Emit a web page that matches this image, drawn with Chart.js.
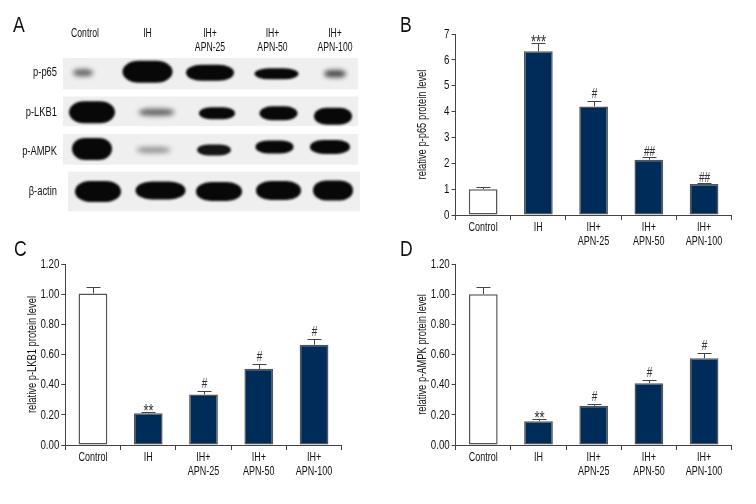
<!DOCTYPE html>
<html>
<head>
<meta charset="utf-8">
<style>
    html, body { margin: 0; padding: 0; background: #fff; }
    #page { position: relative; width: 756px; height: 504px; overflow: hidden; font-family: 'Liberation Sans', sans-serif; }
    canvas { position: absolute; }
    .letter { position: absolute; font-size: 22px; line-height: 22px; color: #111; transform: scaleX(0.8); transform-origin: left top; }
</style>
</head>
<body>
<div id="page">
    <canvas id="chartBlot" width="380" height="225" style="left:0px;top:0px"></canvas>
    <canvas id="chartP65" width="366" height="240" style="left:390px;top:20px"></canvas>
    <canvas id="chartLkb1" width="380" height="250" style="left:0px;top:240px"></canvas>
    <canvas id="chartAmpk" width="366" height="250" style="left:390px;top:240px"></canvas>
    <div class="letter" style="left:13px;top:14px">A</div>
    <div class="letter" style="left:400px;top:14px">B</div>
    <div class="letter" style="left:14px;top:238px">C</div>
    <div class="letter" style="left:400px;top:238px">D</div>
</div>
<script src="https://cdn.jsdelivr.net/npm/chart.js@4"></script>
<script>
const FONT = "'Liberation Sans', sans-serif";
const TEXT_SQUEEZE = 0.72;
const TEXT_COLOR = '#111111';
const AXIS_COLOR = '#444444';
const BAR_COLOR = '#002c5a';

const groups = [['Control'], ['IH'], ['IH+', 'APN-25'], ['IH+', 'APN-50'], ['IH+', 'APN-100']];

const p65Values = [1.0, 6.33, 4.2, 2.14, 1.2];
const p65Errors = [0.07, 0.31, 0.2, 0.12, 0.05];
const p65Marks = ['', '***', '#', '##', '##'];

const lkb1Values = [1.005, 0.21, 0.335, 0.505, 0.665];
const lkb1Errors = [0.045, 0.007, 0.02, 0.03, 0.038];
const lkb1Marks = ['', '**', '#', '#', '#'];

const ampkValues = [1.0, 0.158, 0.26, 0.41, 0.575];
const ampkErrors = [0.05, 0.012, 0.015, 0.02, 0.033];
const ampkMarks = ['', '**', '#', '#', '#'];

// blot band density, one value per lane
const blotRows = ['p-p65', 'p-LKB1', 'p-AMPK', 'β-actin'];
const p65Density = [0.6, 1, 1, 1, 0.75];
const lkb1Density = [1, 0.6, 1, 1, 1];
const ampkDensity = [1, 0.4, 0.95, 1, 1];
const actinDensity = [1, 1, 1, 1, 1];

// band outlines: offset from lane x, half width, half height, offset from row y (px)
const BAND_SHAPES = [
    [[-2, 10, 3.5, 0], [0, 25, 11, -1], [0, 24, 8, 0], [4, 22, 5.5, 1], [0, 11, 3.5, 1]],
    [[7, 23, 11, 0], [9, 18, 3.5, 0], [7, 18, 6, 1], [6, 19, 7, 1], [-2, 19, 8.5, 4]],
    [[7, 20, 11, -3], [6, 17, 3, -2], [4, 17, 5.5, -2], [2, 19, 6.5, -5], [-5, 20, 7, -5]],
    [[13, 23, 10.5, 0], [13, 25, 9, -1], [9, 23, 9.5, 0], [6, 22.5, 9.5, -1], [-2, 20, 10, -1]],
];
// grey strip behind each row: above and below the row centre, in row units
const ROW_BACKS = [[0.375, 0.425], [0.4, 0.35], [0.45, 0.325], [0.5, 0.5]];

// no narrow font is installed, so squeeze canvas text along its own direction
function squeezeText(canvas) {
    const ctx = canvas.getContext('2d');
    const fillText = ctx.fillText.bind(ctx);
    ctx.fillText = function (text, x, y) {
        ctx.save();
        ctx.translate(x, y);
        ctx.scale(TEXT_SQUEEZE, 1);
        fillText(text, 0, 0);
        ctx.restore();
    };
    return canvas;
}

const blotPlugin = {
    id: 'blotBands',
    beforeDatasetsDraw(chart) {
        const { ctx, chartArea, scales } = chart;
        const densities = [p65Density, lkb1Density, ampkDensity, actinDensity];
        ctx.save();
        ROW_BACKS.forEach(function (back, row) {
            const yTop = scales.y.getPixelForValue(row - back[0]);
            const yBot = scales.y.getPixelForValue(row + back[1]);
            const left = chartArea.left + (row === 3 ? 5 : 0);
            const right = chartArea.right - (row === 3 ? 0 : 2);
            ctx.fillStyle = '#efefef';
            ctx.fillRect(left, yTop, right - left, yBot - yTop);
        });
        densities.forEach(function (values, row) {
            values.forEach(function (density, lane) {
                const shape = BAND_SHAPES[row][lane];
                const cx = scales.x.getPixelForValue(lane) + shape[0];
                const cy = scales.y.getPixelForValue(row) + shape[3];
                ctx.filter = density < 0.8 ? 'blur(2.5px)' : 'blur(1px)';
                ctx.fillStyle = 'rgba(8, 8, 8, ' + density + ')';
                ctx.beginPath();
                ctx.roundRect(cx - shape[1], cy - shape[2], shape[1] * 2, shape[2] * 2, { x: shape[1] * 0.65, y: shape[2] });
                ctx.fill();
            });
        });
        ctx.restore();
    },
};

const errorBarPlugin = {
    id: 'errorBars',
    afterDatasetsDraw(chart, args, opts) {
        const { ctx, scales } = chart;
        const meta = chart.getDatasetMeta(0);
        ctx.save();
        ctx.strokeStyle = AXIS_COLOR;
        ctx.lineWidth = 1;
        meta.data.forEach(function (bar, i) {
            const top = scales.y.getPixelForValue(opts.values[i] + opts.errors[i]);
            const x = Math.round(bar.x) + 0.5;
            const y = Math.round(top) + 0.5;
            ctx.beginPath();
            ctx.moveTo(x, bar.y);
            ctx.lineTo(x, y);
            ctx.moveTo(x - 7, y);
            ctx.lineTo(x + 7, y);
            ctx.stroke();
            const mark = opts.marks[i];
            if (mark) {
                const isStar = mark[0] === '*';
                ctx.fillStyle = '#333';
                ctx.font = (isStar ? 18 : 14) + 'px ' + FONT;
                ctx.textAlign = 'center';
                ctx.textBaseline = 'alphabetic';
                ctx.fillText(mark, x, y + (isStar ? 4 : mark.length > 1 ? -2 : -4));
            }
        });
        ctx.restore();
    },
};

function initBlot() {
    new Chart(squeezeText(document.getElementById('chartBlot')), {
        type: 'scatter',
        data: { datasets: [{ data: [], pointRadius: 0 }] },
        plugins: [blotPlugin],
        options: {
            responsive: false,
            animation: false,
            layout: { padding: { right: 20 } },
            plugins: { legend: { display: false }, tooltip: { enabled: false } },
            scales: {
                x: {
                    type: 'linear',
                    position: 'top',
                    min: -0.352,
                    max: 4.4,
                    afterBuildTicks: function (axis) { axis.ticks = [0, 1, 2, 3, 4].map(function (v) { return { value: v }; }); },
                    afterFit: function (axis) { axis.height = 53; },
                    border: { display: false },
                    grid: { display: false, drawTicks: false },
                    ticks: {
                        padding: -2,
                        crossAlign: 'far',
                        maxRotation: 0,
                        color: TEXT_COLOR,
                        font: { family: FONT, size: 12, lineHeight: 1.17 },
                        callback: function (v) { return groups[v]; },
                    },
                },
                y: {
                    type: 'linear',
                    reverse: true,
                    min: -0.5,
                    max: 3.5,
                    afterBuildTicks: function (axis) { axis.ticks = [0, 1, 2, 3].map(function (v) { return { value: v }; }); },
                    afterFit: function (axis) { axis.width = 63; },
                    border: { display: false },
                    grid: { display: false, drawTicks: false },
                    ticks: {
                        padding: 6,
                        color: TEXT_COLOR,
                        font: { family: FONT, size: 13 },
                        callback: function (v) { return blotRows[v]; },
                    },
                },
            },
        },
    });
}

function initBarChart(canvasId, values, errors, marks, yMax, yStep, decimals, title, area) {
    new Chart(squeezeText(document.getElementById(canvasId)), {
        type: 'bar',
        data: {
            labels: groups,
            datasets: [{
                data: values,
                backgroundColor: values.map(function (v, i) { return i === 0 ? '#FFFFFF' : BAR_COLOR; }),
                borderColor: '#555555',
                borderWidth: 1.5,
                borderSkipped: false,
                barPercentage: 0.52,
                categoryPercentage: 1,
            }],
        },
        plugins: [errorBarPlugin],
        options: {
            responsive: false,
            animation: false,
            layout: { padding: { top: area.top, right: area.right } },
            plugins: {
                legend: { display: false },
                tooltip: { enabled: false },
                errorBars: { values: values, errors: errors, marks: marks },
            },
            scales: {
                x: {
                    afterFit: function (axis) { axis.height = area.bottom; },
                    border: { color: AXIS_COLOR, width: 1 },
                    grid: { offset: true, drawOnChartArea: false, color: AXIS_COLOR, tickLength: 5 },
                    ticks: {
                        padding: 1,
                        maxRotation: 0,
                        color: TEXT_COLOR,
                        font: { family: FONT, size: 12.5, lineHeight: 1.08 },
                    },
                },
                y: {
                    min: 0,
                    max: yMax,
                    afterFit: function (axis) { axis.width = area.left; },
                    border: { color: AXIS_COLOR, width: 1 },
                    grid: { drawOnChartArea: false, color: AXIS_COLOR, tickLength: 4 },
                    title: {
                        display: true,
                        text: title,
                        color: TEXT_COLOR,
                        padding: { top: 25, bottom: 0 },
                        font: { family: FONT, size: 13 },
                    },
                    ticks: {
                        stepSize: yStep,
                        padding: 2,
                        color: TEXT_COLOR,
                        font: { family: FONT, size: 13.5 },
                        callback: function (v) { return v.toFixed(decimals); },
                    },
                },
            },
        },
    });
}

document.addEventListener('DOMContentLoaded', function () {
    initBlot();
    initBarChart('chartP65', p65Values, p65Errors, p65Marks, 7, 1, 0, 'relative p-p65 protein level', { left: 65.5, top: 14, right: 24.3, bottom: 45 });
    initBarChart('chartLkb1', lkb1Values, lkb1Errors, lkb1Marks, 1.2, 0.2, 2, 'relative p-LKB1 protein level', { left: 65.3, top: 24, right: 38.3, bottom: 45 });
    initBarChart('chartAmpk', ampkValues, ampkErrors, ampkMarks, 1.2, 0.2, 2, 'relative p-AMPK protein level', { left: 65.7, top: 24, right: 24.3, bottom: 45 });
});
</script>
</body>
</html>
